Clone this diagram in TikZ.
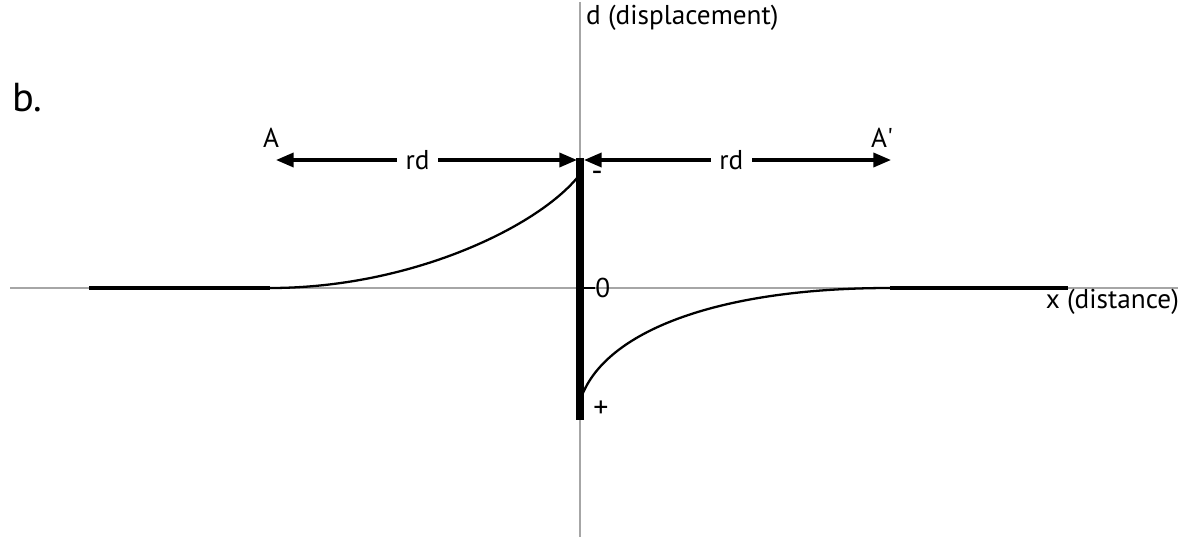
\documentclass[tikz,border=0pt]{standalone}
\usepackage{fontspec}
\setmainfont{PT Sans}
\usetikzlibrary{arrows.meta}

\tikzset{
  axisline/.style={gray!70, line width=0.6pt},
  plotline/.style={black, line width=1.3pt},
  flatline/.style={black, line width=1.8pt},
  rdarrow/.style={{Triangle[length=10pt,width=8pt]}-{Triangle[length=10pt,width=8pt]}, line width=1.8pt},
  lbl/.style={font=\fontsize{15.5}{18}\selectfont, inner sep=1pt}
}

\begin{document}
\begin{tikzpicture}[x=0.02cm, y=-0.02cm]
  \useasboundingbox (0,0) rectangle (1195,537);
  % Axes
  \coordinate (ytop) at (580,2);
  \coordinate (ybot) at (580,537);
  \coordinate (xleft) at (10,288);
  \coordinate (xright) at (1178,288);
  \draw[axisline] (ytop) -- (ybot);
  \draw[axisline] (xleft) -- (xright);
  \node[lbl, anchor=west] (dlabel) at (584,18) {d (displacement)};
  \node[lbl, anchor=east] (xlabel) at (1181,302) {x (distance)};
  \node[font=\fontsize{23}{26}\selectfont, anchor=west, inner sep=0pt] (panel) at (12,98) {b.};
  % Fault bar
  \coordinate (bartop) at (580,158);
  \coordinate (barbot) at (580,420);
  \draw[black, line width=4pt] (bartop) -- (barbot);
  \coordinate (zero) at (595,288);
  \draw[black, line width=1.7pt] (580,288) -- (zero);
  \node[lbl, anchor=west, inner sep=0pt] (zerolbl) at (zero) {0};
  \node[lbl, font=\fontsize{18}{20}\selectfont] (minus) at (597,176) {-};
  \node[lbl, font=\fontsize{17}{20}\selectfont] (plus) at (601,409) {+};
  % Left side
  \coordinate (lfar) at (89,288);
  \coordinate (lflat) at (270,288);
  \coordinate (ltop) at (577,178);
  \draw[flatline] (lfar) -- (lflat);
  \draw[plotline] (lflat) .. controls (410,288) and (535,228) .. (ltop);
  % Right side
  \coordinate (rbot) at (583,393);
  \coordinate (rflat) at (890,288);
  \coordinate (rfar) at (1068,288);
  \draw[plotline] (rbot) .. controls (610,330) and (720,288) .. (rflat);
  \draw[flatline] (rflat) -- (rfar);
  % rd arrows
  \coordinate (A) at (276,160);
  \coordinate (Aleft) at (577,160);
  \coordinate (Aright) at (584,160);
  \coordinate (Ap) at (891,160);
  \draw[rdarrow] (A) -- node[lbl, fill=white, inner sep=5pt, pos=0.47] (rdl) {rd} (Aleft);
  \draw[rdarrow] (Aright) -- node[lbl, fill=white, inner sep=5pt, pos=0.48] (rdr) {rd} (Ap);
  \node[lbl] (Alabel) at (271,138) {A};
  \node[lbl] (Aplabel) at (882,138) {A\textquotesingle};
\end{tikzpicture}
\end{document}
